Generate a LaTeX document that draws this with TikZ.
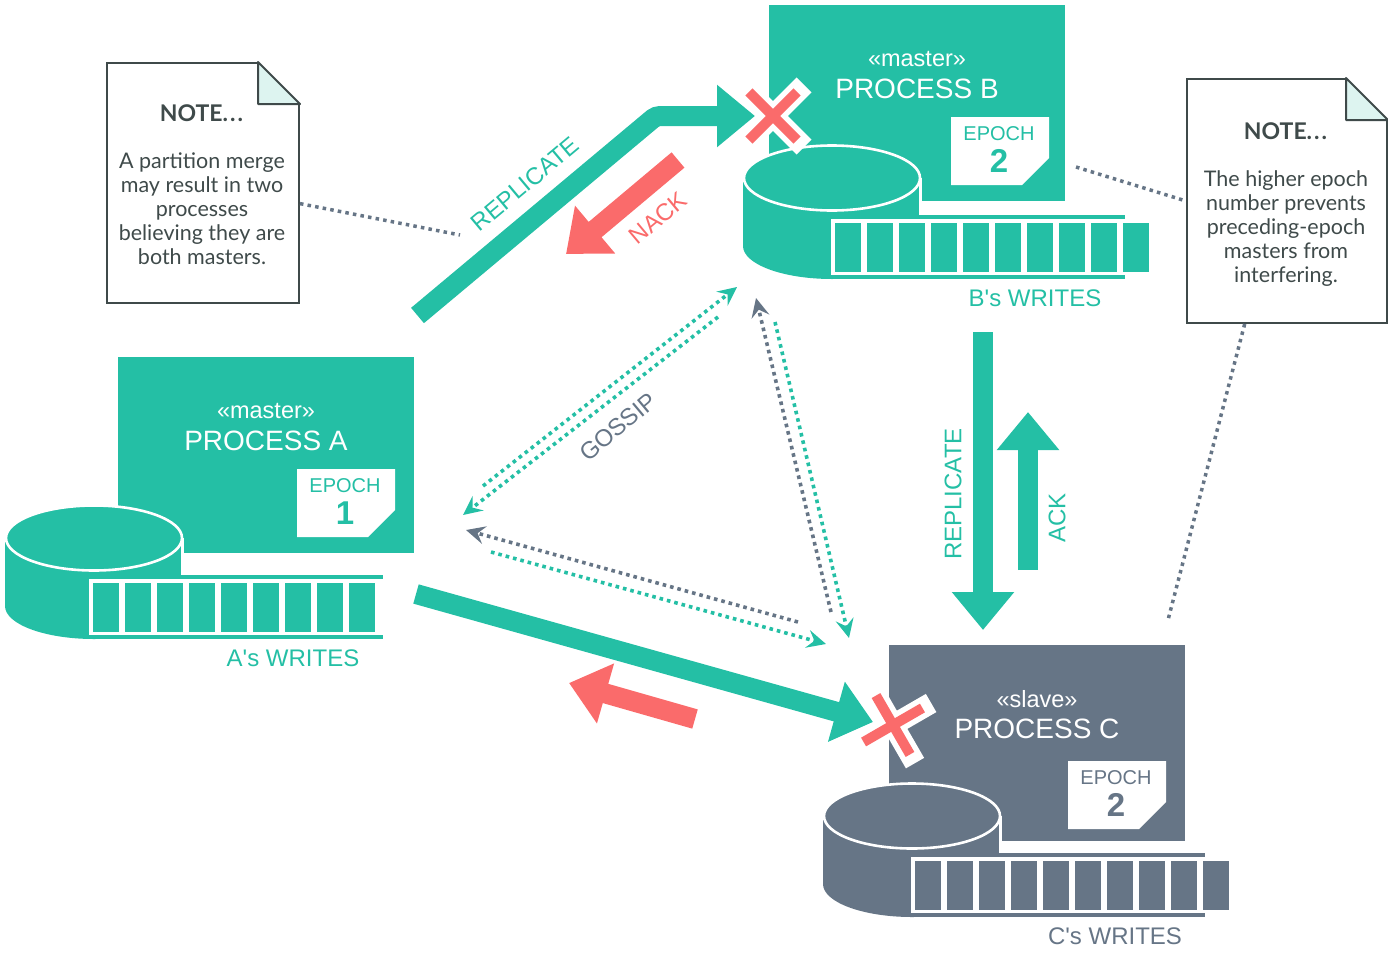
\documentclass[tikz,border=0pt]{standalone}
\usepackage{fontspec}
\setmainfont{Liberation Sans}
\newfontfamily\notefont{Lato}
\usetikzlibrary{arrows.meta,positioning,calc}
\definecolor{sea}{HTML}{24BFA5}
\definecolor{slate}{HTML}{667586}
\definecolor{coral}{HTML}{FA6B6B}
\definecolor{ink}{HTML}{3F4A4A}
\definecolor{foldc}{HTML}{DDF4F0}
\tikzset{
  procbox/.style={rectangle, fill=#1, anchor=north west, inner sep=0pt, outer sep=0pt,
                  minimum width=296pt, minimum height=196pt},
  stereolbl/.style={text=white, inner sep=0pt, font=\fontsize{23.5}{26}\selectfont},
  titlelbl/.style={text=white, inner sep=0pt, font=\fontsize{28}{30}\selectfont},
  epochlbl/.style={text=#1, inner sep=0pt, font=\fontsize{20}{22}\selectfont},
  epochnum/.style={text=#1, inner sep=0pt, font=\fontsize{33}{35}\selectfont\bfseries},
  wirelbl/.style={text=#1, inner sep=0pt, font=\fontsize{24}{26}\selectfont},
  notepage/.style={rectangle, draw=ink, line width=2pt, fill=white, inner sep=0pt},
  notehead/.style={text=ink, inner sep=0pt, font=\notefont\fontsize{23}{26}\selectfont\bfseries},
  notebody/.style={text=ink, inner sep=0pt, align=center, font=\notefont\fontsize{21.5}{24}\selectfont},
  fat/.style={-{Triangle[length=38pt,width=60pt]}, line width=20pt, draw=#1},
  gossip/.style={-{Stealth[length=19pt,width=18pt,inset=7pt]}, line width=3.6pt, draw=#1,
                 dash pattern=on 3.6pt off 4pt},
  noteline/.style={line width=3.5pt, draw=slate, dash pattern=on 3.5pt off 4.2pt},
}
\newcommand{\procnode}[9]{%
  \begin{scope}[shift={(#2,#3)}]
    \node[procbox=#4] (box#1) at (0,0) {};
    \node[stereolbl] (stereo#1) at (148,54) {«#5»};
    \node[titlelbl] (title#1) at (148,84) {#6};
    \begin{scope}[shift={(#8,#9)}]
      \fill[white] (0,0) -- (98,0) -- (98,41) -- (71,68) -- (0,68) -- cycle;
      \node[epochlbl=#4] (epoch#1) at (48,17) {EPOCH};
      \node[epochnum=#4] (num#1) at (48,44) {#7};
    \end{scope}
  \end{scope}}
\newcommand{\diskqueue}[5]{%
  \begin{scope}[shift={(#1,#2)}]
    \fill[#5] (-89,0) -- (-89,68) arc[start angle=180,end angle=0,x radius=89,y radius=33] -- (87,0) -- cycle;
    \filldraw[fill=#5, draw=white, line width=2.6pt] (0,0) ellipse [x radius=88,y radius=32.5];
    \draw[white, line width=2.6pt] (88.5,0) -- (88.5,37);
    \fill[#5] (87,37) rectangle (#3+294,41);
    \fill[white] (#3,41) rectangle (#3+294,97);
    \fill[#5] (#3,97) rectangle (#3+294,101);
    \foreach \c in {1,...,#4} {
      \fill[#5] ({#3+4+32*(\c-1)},45) rectangle ({#3+30+32*(\c-1)},94);
    }
  \end{scope}}
\newcommand{\crossmark}[4]{%
  \coordinate (#1) at (#2,#3);
  \draw[white, line width=21pt] ($(#1)+(#4+45:44)$) -- ($(#1)+(#4+225:44)$);
  \draw[white, line width=21pt] ($(#1)+(#4-45:44)$) -- ($(#1)+(#4+135:44)$);
  \draw[coral, line width=10pt] ($(#1)+(#4+45:34)$) -- ($(#1)+(#4+225:34)$);
  \draw[coral, line width=10pt] ($(#1)+(#4-45:34)$) -- ($(#1)+(#4+135:34)$);}
\newcommand{\notesheet}[8]{%
  \node[notepage, minimum width=#4pt, minimum height=#5pt] (note#1) at (#2,#3) {};
  \coordinate (foldx#1) at ($(note#1.north east)+(-42pt,0)$);
  \coordinate (foldy#1) at ($(note#1.north east)+(0,-42pt)$);
  \fill[white] (foldx#1) -- ($(note#1.north east)+(1.5pt,1.5pt)$) -- (foldy#1) -- cycle;
  \filldraw[fill=foldc, draw=ink, line width=2pt, line join=round] (foldx#1) -- (foldy#1) -- (foldx#1 |- foldy#1) -- cycle;
  \node[notehead] (head#1) at ($(note#1.north)+(-1.5pt,-#6pt)$) {NOTE.\kern2pt.\kern2pt.};
  \node[notebody] (text#1) at ($(note#1.north)+(-1pt,-#7pt)$) {#8};}

\begin{document}
\begin{tikzpicture}[x=1pt,y=-1pt]
  \useasboundingbox (0,0) rectangle (1388,956);
  % processes
  \procnode{A}{118}{357}{sea}{master}{PROCESS A}{1}{179}{112}
  \procnode{B}{769}{5}{sea}{master}{PROCESS B}{2}{182}{112}
  \procnode{C}{889}{645}{slate}{slave}{PROCESS C}{2}{179}{116}
  \diskqueue{94}{538}{-5}{9}{sea}
  \diskqueue{832}{178}{-1}{10}{sea}
  \diskqueue{912}{816}{-1}{10}{slate}
  \node[wirelbl=sea] (writesA) at (293,658) {A\textquotesingle s WRITES};
  \node[wirelbl=sea] (writesB) at (1035,298) {B\textquotesingle s WRITES};
  \node[wirelbl=slate] (writesC) at (1115,936) {C\textquotesingle s WRITES};
  % notes
  \notesheet{L}{203}{183}{192}{240}{51}{147}{A partition merge\\may result in two\\processes\\believing they are\\both masters.}
  \notesheet{R}{1287}{201}{200}{244}{53}{151}{The higher epoch\\number prevents\\preceding-epoch\\masters from\\interfering.}
  \coordinate (freeL) at (460,235);
  \coordinate (freeR) at (1076,167);
  \coordinate (freeS) at (1168,620);
  \draw[noteline] (noteL.-12) -- (freeL);
  \draw[noteline] (freeR) -- (noteR.west);
  \draw[noteline] (noteR.-109) -- (freeS);
  % replication
  \coordinate (repA) at (417.5,315.5);
  \coordinate (repK) at (656,116);
  \coordinate (repB) at (755,116);
  \draw[fat=sea, rounded corners=4pt] (repA) -- (repK) -- (repB);
  \coordinate (logA) at (416,594);
  \coordinate (logC) at (873,722);
  \draw[fat=sea] (logA) -- (logC);
  \coordinate (repC1) at (983,332);
  \coordinate (repC2) at (983,630);
  \draw[fat=sea] (repC1) -- (repC2);
  \coordinate (ack1) at (1028,570);
  \coordinate (ack2) at (1028,412);
  \draw[fat=sea] (ack1) -- (ack2);
  \coordinate (nack1) at (678,160);
  \coordinate (nack2) at (566,254);
  \draw[fat=coral] (nack1) -- (nack2);
  \coordinate (nackc1) at (695,719);
  \coordinate (nackc2) at (569,683);
  \draw[fat=coral] (nackc1) -- (nackc2);
  \crossmark{crossB}{773}{116}{0}
  \crossmark{crossC}{893}{725}{15}
  \node[wirelbl=sea, rotate=40] (repl1) at (525,184) {REPLICATE};
  \node[wirelbl=coral, rotate=40] (nackl) at (658,218) {NACK};
  \node[wirelbl=sea, rotate=90] (repl2) at (953,494) {REPLICATE};
  \node[wirelbl=sea, rotate=90] (ackl) at (1057,518) {ACK};
  \node[wirelbl=slate, rotate=40] (gossipl) at (618,427) {GOSSIP};
  % gossip
  \coordinate (g1) at (483,486);  \coordinate (g2) at (737,287);
  \coordinate (g3) at (718,317);  \coordinate (g4) at (463,515);
  \coordinate (g5) at (798,622);  \coordinate (g6) at (466,530);
  \coordinate (g7) at (491,552);  \coordinate (g8) at (826,644);
  \coordinate (g9) at (831,612);  \coordinate (g10) at (756,298);
  \coordinate (g11) at (775,322); \coordinate (g12) at (849,638);
  \draw[gossip=sea] (g1) -- (g2);
  \draw[gossip=sea] (g3) -- (g4);
  \draw[gossip=slate] (g5) -- (g6);
  \draw[gossip=sea] (g7) -- (g8);
  \draw[gossip=slate] (g9) -- (g10);
  \draw[gossip=sea] (g11) -- (g12);
\end{tikzpicture}
\end{document}
